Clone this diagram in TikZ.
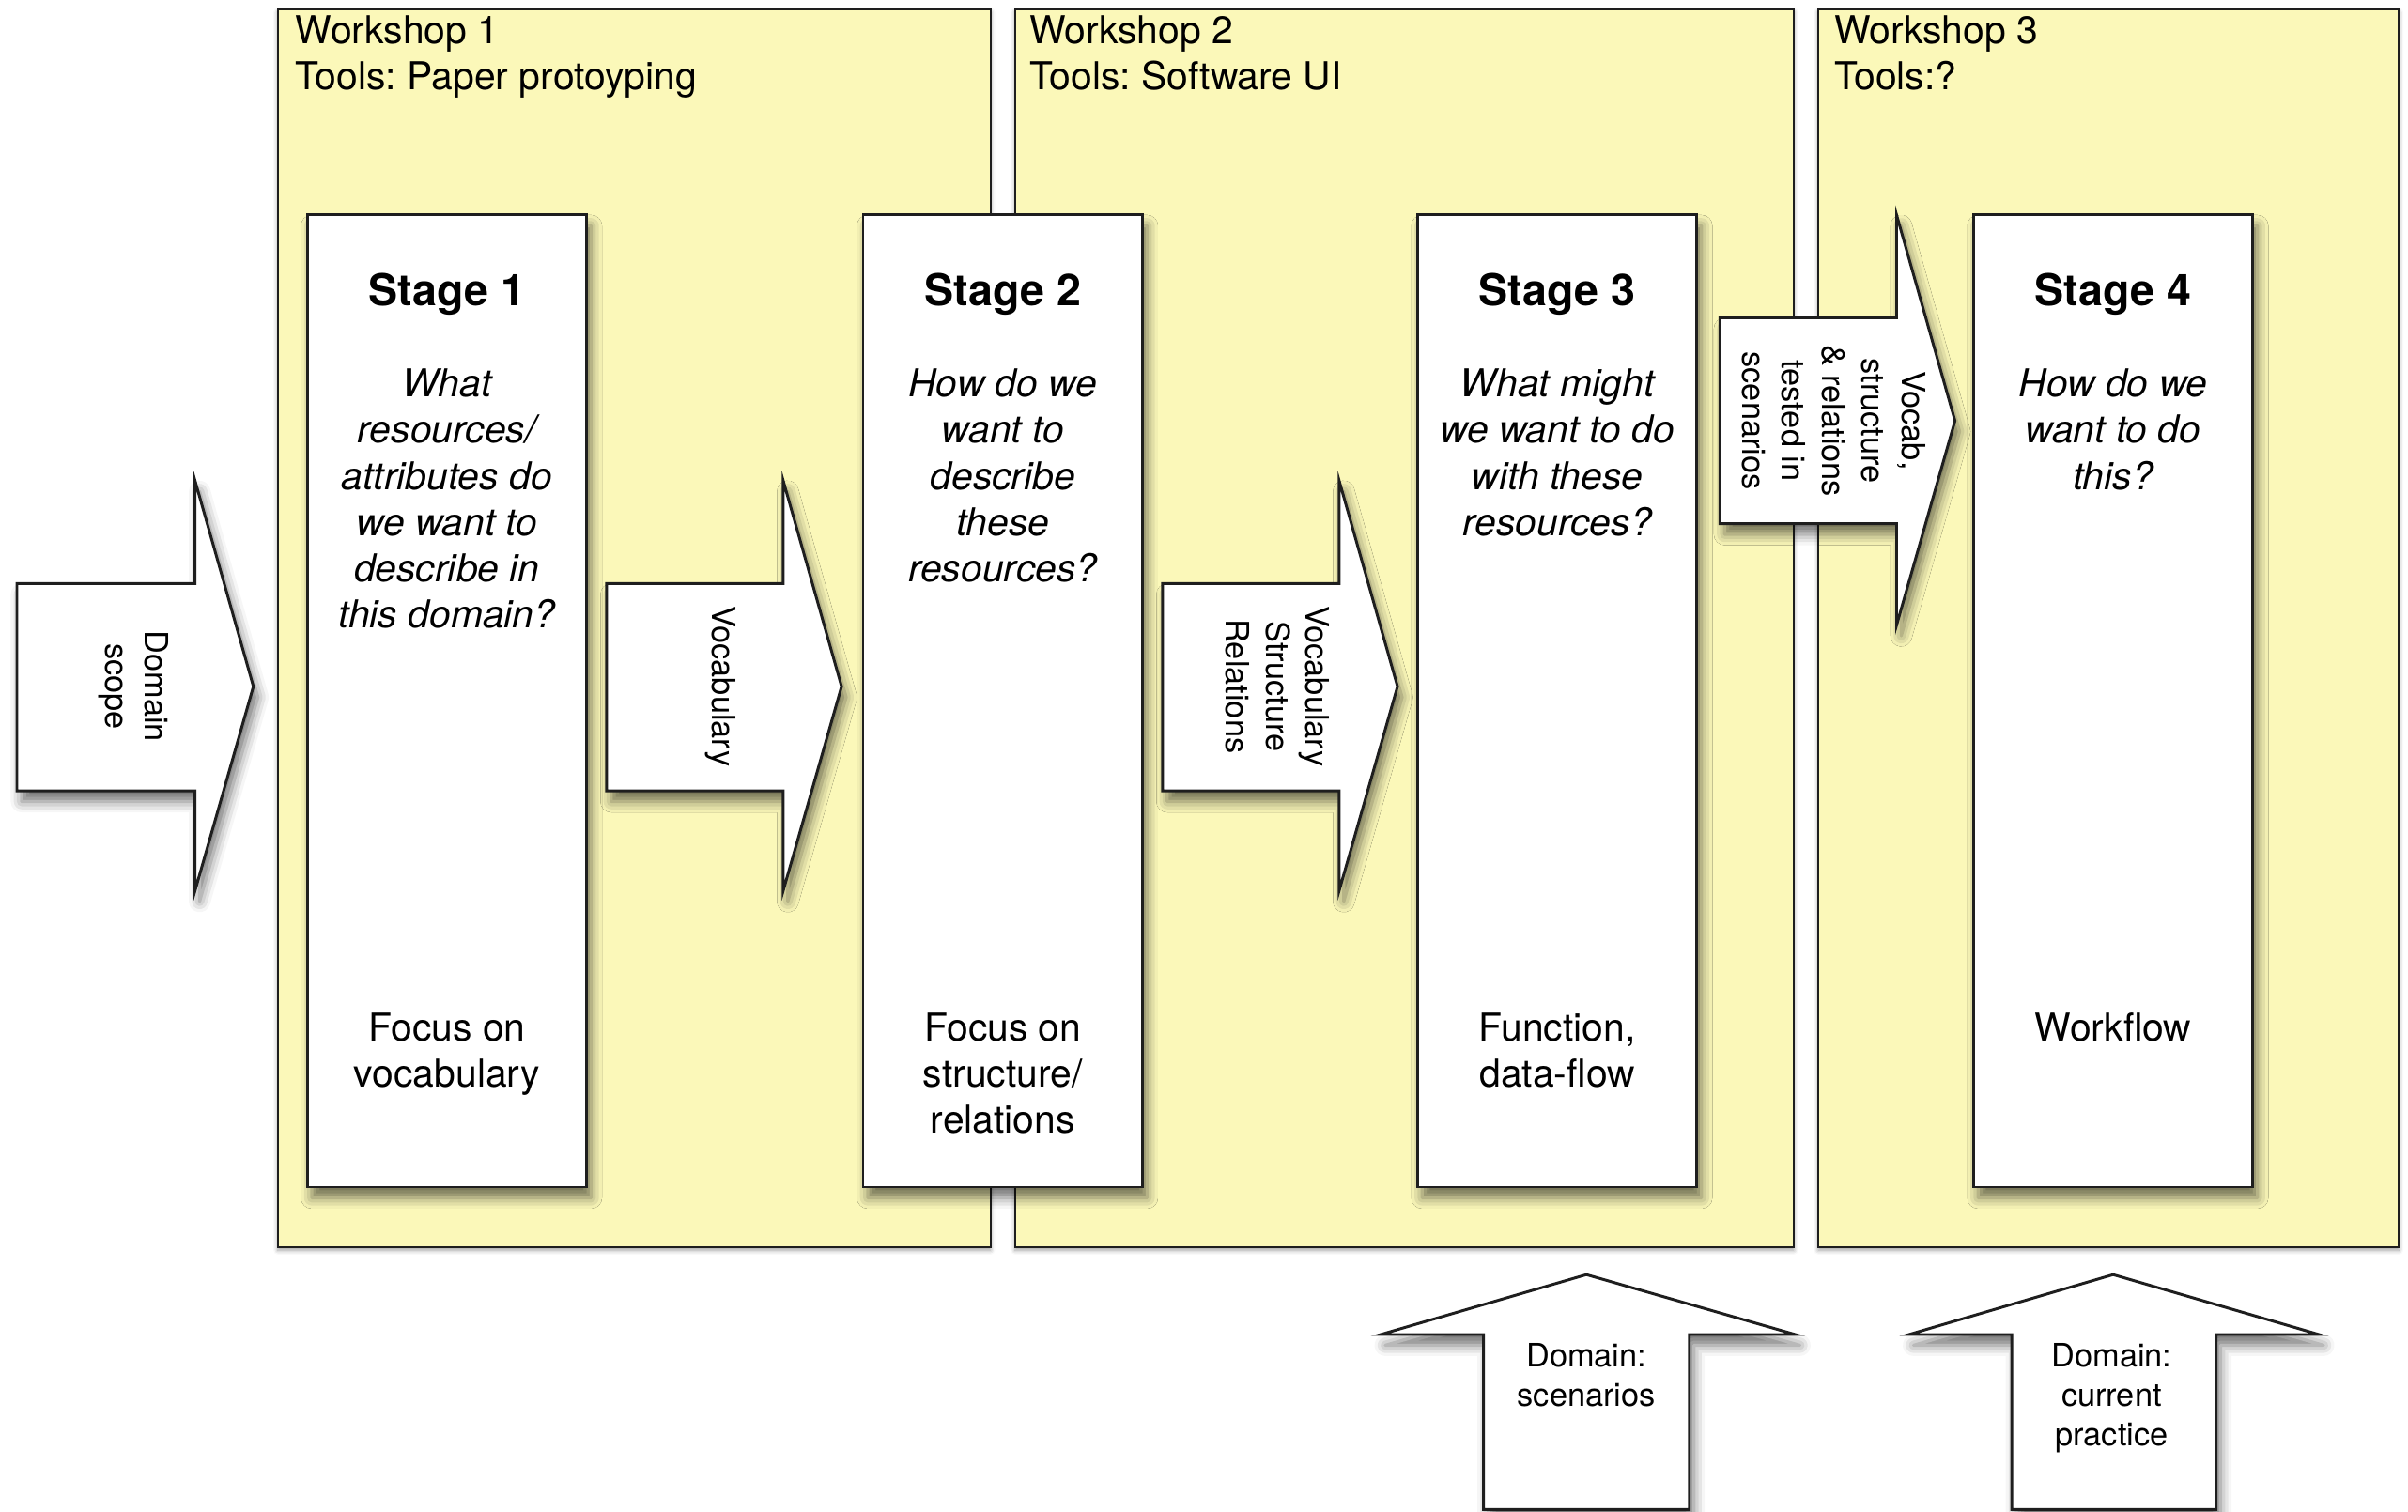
\documentclass[tikz,border=0pt]{standalone}
\usepackage{fontspec}
\setmainfont{TeX Gyre Heros}
\usepackage{tikz}
\usetikzlibrary{calc, shadows, shadows.blur}
\definecolor{wsYellow}{RGB}{251,248,185}
\definecolor{edgeGray}{RGB}{30,30,30}
\frenchspacing
\tikzset{
  workshop/.style={fill=wsYellow, draw=edgeGray, line width=0.7pt,
    blur shadow={shadow xshift=0pt, shadow yshift=-1pt, shadow blur radius=1.5pt, shadow opacity=40}},
  stagebox/.style={fill=white, draw=edgeGray, line width=0.9pt,
    blur shadow={shadow xshift=1.5pt, shadow yshift=-3.5pt, shadow blur radius=3.5pt, shadow opacity=55}},
  bigarrow/.style={fill=white, draw=edgeGray, line width=0.9pt, line join=miter,
    blur shadow={shadow xshift=1.5pt, shadow yshift=-3.5pt, shadow blur radius=3.5pt, shadow opacity=55}},
  wslabel/.style={anchor=north west, inner sep=0pt, align=left, font=\fontsize{12.5}{15}\selectfont},
  stagetitle/.style={anchor=base, inner sep=0pt, font=\fontsize{14.25}{17}\selectfont\bfseries},
  question/.style={anchor=north, inner sep=0pt, align=center, font=\fontsize{12.5}{15}\selectfont\itshape},
  focus/.style={anchor=north, inner sep=0pt, align=center, font=\fontsize{12.5}{15}\selectfont},
  arrowtext/.style={inner sep=0pt, align=center, rotate=-90, font=\fontsize{10.5}{13}\selectfont},
  uptext/.style={anchor=north, inner sep=0pt, align=center, font=\fontsize{10.5}{12.75}\selectfont}
}

\begin{document}
\begin{tikzpicture}[x=0.5pt, y=-0.5pt]
  \useasboundingbox (0,0) rectangle (1568,984);

  % workshops
  \draw[workshop] (181,6) rectangle (645,812);
  \draw[workshop] (661,6) rectangle (1168,812);
  \draw[workshop] (1184,6) rectangle (1562,812);
  \node[wslabel] (ws1) at (192,10) {Workshop 1\\Tools: Paper protoyping};
  \node[wslabel] (ws2) at (670,10) {Workshop 2\\Tools: Software UI};
  \node[wslabel] (ws3) at (1194,10) {Workshop 3\\Tools:?};

  % stages
  \draw[stagebox] (200,140) rectangle (382,773);
  \draw[stagebox] (562,140) rectangle (744,773);
  \draw[stagebox] (923,140) rectangle (1105,773);
  \draw[stagebox] (1285,140) rectangle (1467,773);

  \node[stagetitle] (s1) at (291,199) {Stage 1};
  \node[stagetitle] (s2) at (653,199) {Stage 2};
  \node[stagetitle] (s3) at (1014,199) {Stage 3};
  \node[stagetitle] (s4) at (1376,199) {Stage 4};

  \node[question] (q1) at (291,240) {What\\resources/\\attributes do\\we want to\\describe in\\this domain?};
  \node[question] (q2) at (653,240) {How do we\\want to\\describe\\these\\resources?};
  \node[question] (q3) at (1014,240) {What might\\we want to do\\with these\\resources?};
  \node[question] (q4) at (1376,240) {How do we\\want to do\\this?};

  \node[focus] (f1) at (291,659) {Focus on\\vocabulary};
  \node[focus] (f2) at (653,659) {Focus on\\structure/\\relations};
  \node[focus] (f3) at (1014,659) {Function,\\data-flow};
  \node[focus] (f4) at (1376,659) {Workflow};

  % arrows between stages
  \draw[bigarrow] (11,380) -- (127,380) -- (127,313) -- (165,447) -- (127,580) -- (127,515) -- (11,515) -- cycle;
  \draw[bigarrow] (395,380) -- (510,380) -- (510,313) -- (548,447) -- (510,580) -- (510,515) -- (395,515) -- cycle;
  \draw[bigarrow] (757,380) -- (872,380) -- (872,313) -- (910,447) -- (872,580) -- (872,515) -- (757,515) -- cycle;
  \draw[bigarrow] (1120,207) -- (1235,207) -- (1235,140) -- (1273,274) -- (1235,407) -- (1235,341) -- (1120,341) -- cycle;

  \node[arrowtext] (a0) at (87,447) {Domain\\scope};
  \node[arrowtext] (a1) at (469,447) {Vocabulary};
  \node[arrowtext] (a2) at (832,447) {Vocabulary\\Structure\\Relations};
  \node[arrowtext] (a3) at (1194,274) {Vocab,\\structure\\\& relations\\tested in\\scenarios};

  % domain inputs
  \draw[bigarrow] (966,983) -- (966,869) -- (899,869) -- (1033,830) -- (1169,869) -- (1100,869) -- (1100,983) -- cycle;
  \draw[bigarrow] (1310,983) -- (1310,869) -- (1243,869) -- (1376,830) -- (1510,869) -- (1443,869) -- (1443,983) -- cycle;

  \node[uptext] (d1) at (1033,874.5) {Domain:\\scenarios};
  \node[uptext] (d2) at (1375,874.5) {Domain:\\current\\practice};
\end{tikzpicture}
\end{document}
